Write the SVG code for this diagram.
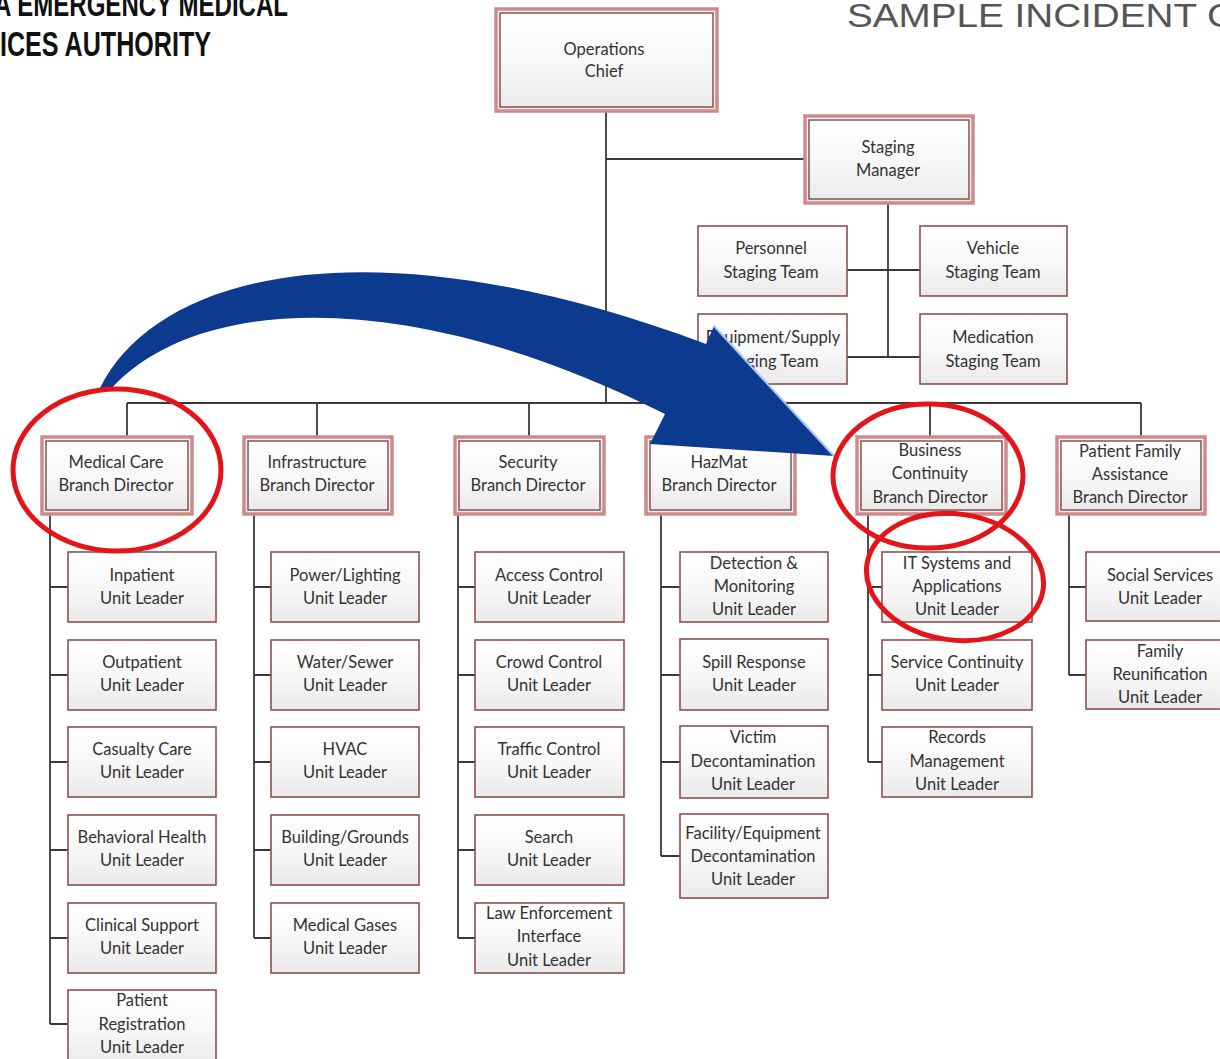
<svg xmlns="http://www.w3.org/2000/svg" width="1220" height="1059" viewBox="0 0 1220 1059">
<defs>
<linearGradient id="fillg" x1="0" y1="0" x2="0" y2="1">
<stop offset="0" stop-color="#ffffff"/>
<stop offset="0.55" stop-color="#f7f7f7"/>
<stop offset="1" stop-color="#e9e9e9"/>
</linearGradient>
<style>
.bo{fill:url(#fillg);stroke:#cf8a8a;stroke-width:3.5}
.bi{fill:none;stroke:#7d4545;stroke-width:1.4}
.ub{fill:url(#fillg);stroke:#8f4f4f;stroke-width:1.6}
.t{font-family:Lato,"Liberation Sans",sans-serif;font-size:16.5px;fill:#333;text-anchor:middle}
.c{fill:none;stroke:#3a3a3a;stroke-width:1.8}
.ring{fill:none;stroke:#e3151b;stroke-width:5}
</style>
</defs>
<rect width="1220" height="1059" fill="#ffffff"/>
<text x="-6" y="16" font-family="'Liberation Sans',sans-serif" font-weight="bold" font-size="34" textLength="294" lengthAdjust="spacingAndGlyphs" fill="#111">A EMERGENCY MEDICAL</text>
<text x="0" y="56" font-family="'Liberation Sans',sans-serif" font-weight="bold" font-size="35" textLength="211" lengthAdjust="spacingAndGlyphs" fill="#111">ICES AUTHORITY</text>
<text x="847" y="27" font-family="'Liberation Sans',sans-serif" font-size="34" textLength="388" lengthAdjust="spacingAndGlyphs" fill="#555">SAMPLE INCIDENT C</text>
<g id="connectors">
<path class="c" d="M606 111V403M606 159H805M888 203V357M847 270H920M847 357H920"/>
<path class="c" d="M127 403H1141M127 403V437M317 403V437M529 403V437M719 403V437M930 403V437M1141 403V437"/>
<path class="c" d="M50 514V1024M50 587H68M50 675H68M50 762H68M50 850H68M50 938H68M50 1024H68"/>
<path class="c" d="M254 514V938M254 587H271M254 675H271M254 762H271M254 850H271M254 938H271"/>
<path class="c" d="M458 514V938M458 587H475M458 675H475M458 762H475M458 850H475M458 938H475"/>
<path class="c" d="M661 514V856M661 587H680M661 675H680M661 762H680M661 856H680"/>
<path class="c" d="M868 514V762M868 587H882M868 675H882M868 762H882"/>
<path class="c" d="M1069 514V675M1069 587H1086M1069 675H1086"/>
</g>
<g id="operations-chief"><rect class="bo" x="496" y="9" width="221" height="102"/><rect class="bi" x="500" y="13" width="213" height="94"/><text class="t" x="604" y="55">Operations</text><text class="t" x="604" y="77">Chief</text></g>
<g id="staging-manager"><rect class="bo" x="805" y="116" width="168" height="87"/><rect class="bi" x="809" y="120" width="160" height="79"/><text class="t" x="888" y="153">Staging</text><text class="t" x="888" y="176">Manager</text></g>
<g id="personnel-staging"><rect class="ub" x="698" y="226" width="149" height="70"/><text class="t" x="771" y="254">Personnel</text><text class="t" x="771" y="278">Staging Team</text></g>
<g id="vehicle-staging"><rect class="ub" x="920" y="226" width="147" height="70"/><text class="t" x="993" y="254">Vehicle</text><text class="t" x="993" y="278">Staging Team</text></g>
<g id="equipment-staging"><rect class="ub" x="698" y="314" width="149" height="70"/><text class="t" x="773" y="343">Equipment/Supply</text><text class="t" x="771" y="367">Staging Team</text></g>
<g id="medication-staging"><rect class="ub" x="920" y="314" width="147" height="70"/><text class="t" x="993" y="343">Medication</text><text class="t" x="993" y="367">Staging Team</text></g>

<g id="medical-care"><rect class="bo" x="42" y="437" width="150" height="77"/><rect class="bi" x="46" y="441" width="142" height="69"/><text class="t" x="116" y="468">Medical Care</text><text class="t" x="116" y="491">Branch Director</text></g>
<g id="infrastructure"><rect class="bo" x="244" y="437" width="148" height="77"/><rect class="bi" x="248" y="441" width="140" height="69"/><text class="t" x="317" y="468">Infrastructure</text><text class="t" x="317" y="491">Branch Director</text></g>
<g id="security"><rect class="bo" x="455" y="437" width="149" height="77"/><rect class="bi" x="459" y="441" width="141" height="69"/><text class="t" x="528" y="468">Security</text><text class="t" x="528" y="491">Branch Director</text></g>
<g id="hazmat"><rect class="bo" x="646" y="437" width="149" height="77"/><rect class="bi" x="650" y="441" width="141" height="69"/><text class="t" x="719" y="468">HazMat</text><text class="t" x="719" y="491">Branch Director</text></g>
<g id="business-continuity"><rect class="bo" x="857" y="437" width="149" height="77"/><rect class="bi" x="861" y="441" width="141" height="69"/><text class="t" x="930" y="456">Business</text><text class="t" x="930" y="479">Continuity</text><text class="t" x="930" y="503">Branch Director</text></g>
<g id="patient-family"><rect class="bo" x="1057" y="437" width="148" height="77"/><rect class="bi" x="1061" y="441" width="140" height="69"/><text class="t" x="1130" y="457">Patient Family</text><text class="t" x="1130" y="480">Assistance</text><text class="t" x="1130" y="503">Branch Director</text></g>

<g id="inpatient"><rect class="ub" x="68" y="552" width="148" height="70"/><text class="t" x="142" y="581">Inpatient</text><text class="t" x="142" y="604">Unit Leader</text></g>
<g id="outpatient"><rect class="ub" x="68" y="640" width="148" height="70"/><text class="t" x="142" y="668">Outpatient</text><text class="t" x="142" y="691">Unit Leader</text></g>
<g id="casualty-care"><rect class="ub" x="68" y="727" width="148" height="70"/><text class="t" x="142" y="755">Casualty Care</text><text class="t" x="142" y="778">Unit Leader</text></g>
<g id="behavioral-health"><rect class="ub" x="68" y="815" width="148" height="70"/><text class="t" x="142" y="843">Behavioral Health</text><text class="t" x="142" y="866">Unit Leader</text></g>
<g id="clinical-support"><rect class="ub" x="68" y="903" width="148" height="70"/><text class="t" x="142" y="931">Clinical Support</text><text class="t" x="142" y="954">Unit Leader</text></g>
<g id="patient-registration"><rect class="ub" x="68" y="990" width="148" height="75"/><text class="t" x="142" y="1006">Patient</text><text class="t" x="142" y="1030">Registration</text><text class="t" x="142" y="1053">Unit Leader</text></g>

<g id="power-lighting"><rect class="ub" x="271" y="552" width="148" height="70"/><text class="t" x="345" y="581">Power/Lighting</text><text class="t" x="345" y="604">Unit Leader</text></g>
<g id="water-sewer"><rect class="ub" x="271" y="640" width="148" height="70"/><text class="t" x="345" y="668">Water/Sewer</text><text class="t" x="345" y="691">Unit Leader</text></g>
<g id="hvac"><rect class="ub" x="271" y="727" width="148" height="70"/><text class="t" x="345" y="755">HVAC</text><text class="t" x="345" y="778">Unit Leader</text></g>
<g id="building-grounds"><rect class="ub" x="271" y="815" width="148" height="70"/><text class="t" x="345" y="843">Building/Grounds</text><text class="t" x="345" y="866">Unit Leader</text></g>
<g id="medical-gases"><rect class="ub" x="271" y="903" width="148" height="70"/><text class="t" x="345" y="931">Medical Gases</text><text class="t" x="345" y="954">Unit Leader</text></g>

<g id="access-control"><rect class="ub" x="475" y="552" width="149" height="70"/><text class="t" x="549" y="581">Access Control</text><text class="t" x="549" y="604">Unit Leader</text></g>
<g id="crowd-control"><rect class="ub" x="475" y="640" width="149" height="70"/><text class="t" x="549" y="668">Crowd Control</text><text class="t" x="549" y="691">Unit Leader</text></g>
<g id="traffic-control"><rect class="ub" x="475" y="727" width="149" height="70"/><text class="t" x="549" y="755">Traffic Control</text><text class="t" x="549" y="778">Unit Leader</text></g>
<g id="search"><rect class="ub" x="475" y="815" width="149" height="70"/><text class="t" x="549" y="843">Search</text><text class="t" x="549" y="866">Unit Leader</text></g>
<g id="law-enforcement"><rect class="ub" x="475" y="903" width="149" height="70"/><text class="t" x="549" y="919">Law Enforcement</text><text class="t" x="549" y="942">Interface</text><text class="t" x="549" y="966">Unit Leader</text></g>

<g id="detection"><rect class="ub" x="680" y="552" width="148" height="70"/><text class="t" x="754" y="569">Detection &amp;</text><text class="t" x="754" y="592">Monitoring</text><text class="t" x="754" y="615">Unit Leader</text></g>
<g id="spill-response"><rect class="ub" x="680" y="639" width="148" height="71"/><text class="t" x="754" y="668">Spill Response</text><text class="t" x="754" y="691">Unit Leader</text></g>
<g id="victim-decon"><rect class="ub" x="680" y="726" width="148" height="72"/><text class="t" x="753" y="743">Victim</text><text class="t" x="753" y="767">Decontamination</text><text class="t" x="753" y="790">Unit Leader</text></g>
<g id="facility-decon"><rect class="ub" x="680" y="814" width="148" height="84"/><text class="t" x="753" y="839">Facility/Equipment</text><text class="t" x="753" y="862">Decontamination</text><text class="t" x="753" y="885">Unit Leader</text></g>

<g id="it-systems"><rect class="ub" x="882" y="552" width="150" height="70"/><text class="t" x="957" y="569">IT Systems and</text><text class="t" x="957" y="592">Applications</text><text class="t" x="957" y="615">Unit Leader</text></g>
<g id="service-continuity"><rect class="ub" x="882" y="640" width="150" height="70"/><text class="t" x="957" y="668">Service Continuity</text><text class="t" x="957" y="691">Unit Leader</text></g>
<g id="records-management"><rect class="ub" x="882" y="727" width="150" height="70"/><text class="t" x="957" y="743">Records</text><text class="t" x="957" y="767">Management</text><text class="t" x="957" y="790">Unit Leader</text></g>

<g id="social-services"><rect class="ub" x="1086" y="552" width="148" height="69"/><text class="t" x="1160" y="581">Social Services</text><text class="t" x="1160" y="604">Unit Leader</text></g>
<g id="family-reunification"><rect class="ub" x="1086" y="640" width="148" height="69"/><text class="t" x="1160" y="657">Family</text><text class="t" x="1160" y="680">Reunification</text><text class="t" x="1160" y="703">Unit Leader</text></g>

<g id="blue-arrow">
<path d="M100 388 C160 268 380 222 706 344 L714 326 L834 456 L650 444 L665 414 C420 290 200 290 110 390 Z" fill="#0c3a8f"/>
<path d="M714 326 L834 456" stroke="#a9c6f2" stroke-width="2" fill="none"/>
</g>
<g id="highlights">
<ellipse class="ring" cx="117" cy="470" rx="104" ry="81"/>
<ellipse class="ring" cx="928" cy="476" rx="95" ry="72"/>
<ellipse class="ring" cx="955" cy="577" rx="89" ry="63" transform="rotate(8 955 577)"/>
</g>
</svg>
